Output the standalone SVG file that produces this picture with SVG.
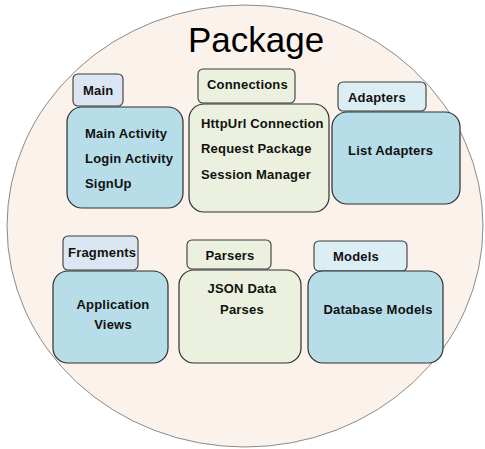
<svg xmlns="http://www.w3.org/2000/svg" width="485" height="449" viewBox="0 0 485 449">
  <style>
    .tab { stroke: #3a3a3a; stroke-width: 1.1; }
    .body { stroke: #2e2e2e; stroke-width: 1.2; }
    .blue-tab { fill: #dce6f2; }
    .cyan-tab { fill: #dbeef4; }
    .green { fill: #ebf1de; }
    .blue { fill: #b7dde8; }
    text { font-family: "Liberation Sans", Arial, sans-serif; font-weight: bold; font-size: 13px; letter-spacing: 0.2px; fill: #111; }
    .title { font-weight: normal; font-size: 35px; letter-spacing: 0; fill: #000; }
    .mid { text-anchor: middle; }
  </style>

  <!-- outer package boundary -->
  <ellipse cx="245" cy="226" rx="238" ry="221" fill="#fbf2ec" stroke="#8a8a8a" stroke-width="1"/>
  <text class="title" x="256" y="52" text-anchor="middle">Package</text>

  <g id="main">
    <rect class="tab blue-tab" x="73" y="74" width="50" height="32" rx="5"/>
    <rect class="body blue" x="67" y="107" width="116" height="101" rx="15"/>
    <text x="83" y="95">Main</text>
    <text x="85" y="138">Main Activity</text>
    <text x="85" y="163">Login Activity</text>
    <text x="85" y="188">SignUp</text>
  </g>

  <g id="connections">
    <rect class="tab green" x="198" y="69" width="97" height="34" rx="5"/>
    <rect class="body green" x="189" y="104" width="140" height="108" rx="15"/>
    <text x="207" y="89">Connections</text>
    <text x="201" y="128">HttpUrl Connection</text>
    <text x="201" y="153">Request Package</text>
    <text x="201" y="179">Session Manager</text>
  </g>

  <g id="adapters">
    <rect class="tab cyan-tab" x="338" y="82" width="88" height="29" rx="5"/>
    <rect class="body blue" x="332" y="112" width="128" height="92" rx="15"/>
    <text x="348" y="102">Adapters</text>
    <text x="348" y="155">List Adapters</text>
  </g>

  <g id="fragments">
    <rect class="tab blue-tab" x="63" y="236" width="75" height="34" rx="5"/>
    <rect class="body blue" x="53" y="271" width="115" height="92" rx="15"/>
    <text x="68" y="257">Fragments</text>
    <text class="mid" x="113" y="309">Application</text>
    <text class="mid" x="113" y="329">Views</text>
  </g>

  <g id="parsers">
    <rect class="tab green" x="187" y="240" width="84" height="29" rx="5"/>
    <rect class="body green" x="179" y="270" width="122" height="93" rx="15"/>
    <text class="mid" x="230" y="260">Parsers</text>
    <text class="mid" x="242" y="293">JSON Data</text>
    <text class="mid" x="242" y="314">Parses</text>
  </g>

  <g id="models">
    <rect class="tab cyan-tab" x="314" y="241" width="93" height="30" rx="5"/>
    <rect class="body blue" x="308" y="271" width="135" height="92" rx="15"/>
    <text class="mid" x="356" y="261">Models</text>
    <text class="mid" x="378" y="314">Database Models</text>
  </g>

  <g id="connectors"></g>
</svg>
